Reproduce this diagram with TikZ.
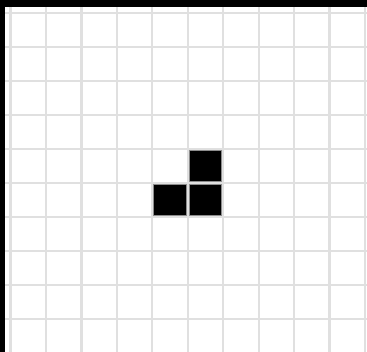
\documentclass[tikz,border=0pt]{standalone}
\begin{document}
\begin{tikzpicture}[x=1pt,y=-1pt,
  gridline/.style={draw=black!12,line width=2.2pt},
  cell/.style={fill=black,draw=black!45,line width=0.8pt}]
\useasboundingbox (0,0) rectangle (367,352);
\fill[white] (0,0) rectangle (367,352);
\foreach \i in {0,...,10}{
  \draw[gridline] ({10.5+35.45*\i},7) -- ({10.5+35.45*\i},352);
}
\foreach \j in {0,...,9}{
  \draw[gridline] (5,{13+34*\j}) -- (367,{13+34*\j});
}
% live cells
\def\cellat#1#2{\draw[cell] ({10.5+35.45*#1+1.5},{13+34*#2+1.3}) rectangle ({10.5+35.45*(#1+1)-1.5},{13+34*(#2+1)-1.3});}
\cellat{5}{4}
\cellat{4}{5}
\cellat{5}{5}
% black frame top and left
\fill[black] (0,0) rectangle (367,7);
\fill[black] (0,0) rectangle (5,352);
\end{tikzpicture}
\end{document}
